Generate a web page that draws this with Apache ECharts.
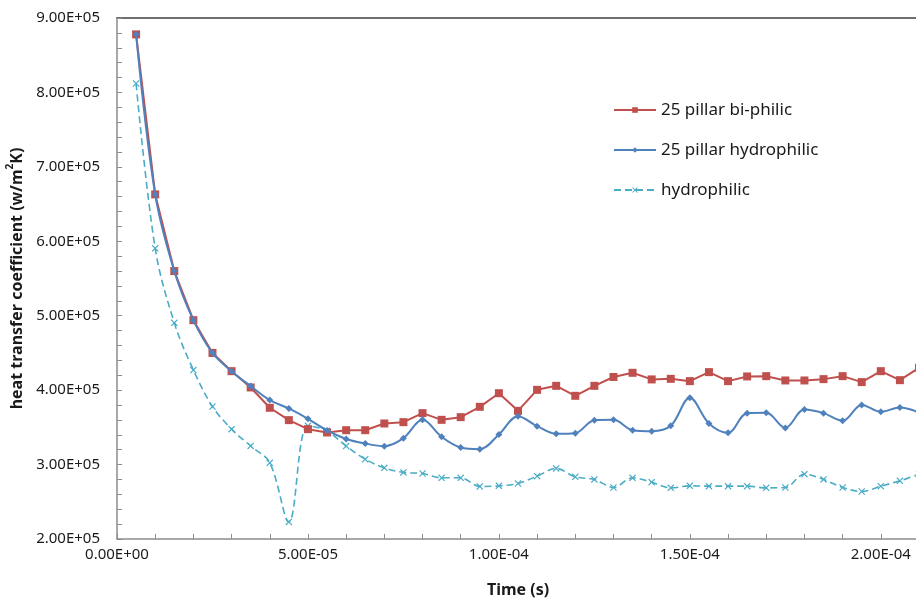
<!DOCTYPE html>
<html>
<head>
<meta charset="utf-8">
<script src="https://cdn.jsdelivr.net/npm/echarts@6/dist/echarts.min.js"></script>
<style>
html,body{margin:0;padding:0;background:#fff;}
#chart{width:916px;height:603px;}
</style>
</head>
<body>
<div id="chart"></div>
<script>
// Time (s)
const times = [
  5e-6, 1e-5, 1.5e-5, 2e-5, 2.5e-5, 3e-5, 3.5e-5, 4e-5, 4.5e-5, 5e-5,
  5.5e-5, 6e-5, 6.5e-5, 7e-5, 7.5e-5, 8e-5, 8.5e-5, 9e-5, 9.5e-5, 1e-4,
  1.05e-4, 1.1e-4, 1.15e-4, 1.2e-4, 1.25e-4, 1.3e-4, 1.35e-4, 1.4e-4, 1.45e-4, 1.5e-4,
  1.55e-4, 1.6e-4, 1.65e-4, 1.7e-4, 1.75e-4, 1.8e-4, 1.85e-4, 1.9e-4, 1.95e-4, 2e-4,
  2.05e-4, 2.1e-4
];
// 25 pillar bi-philic
const biPhilic = [
  878000, 663000, 560000, 494000, 450000, 425500, 403600, 376300, 359700, 347600,
  343100, 346200, 346200, 355200, 357000, 369100, 360100, 363700, 377600, 395900,
  372200, 400400, 405800, 392400, 405800, 417700, 423300, 414400, 415200, 412100,
  424200, 412100, 418400, 418800, 413000, 413000, 414800, 418800, 410800, 425500,
  413400, 430000
];
// 25 pillar hydrophilic
const pillarHydro = [
  878000, 663000, 560000, 494000, 450000, 425500, 405400, 386600, 375400, 361400,
  345800, 334400, 328300, 324700, 335500, 360100, 337300, 322900, 320700, 340400,
  365000, 351600, 341300, 342200, 359700, 360200, 346200, 344900, 352000, 389700,
  355200, 342600, 369100, 369500, 349300, 374000, 369100, 358800, 380200, 370900,
  376700, 370000
];
// hydrophilic
const hydro = [
  812000, 590500, 490500, 427000, 378000, 347600, 325000, 302400, 223000, 352000,
  345300, 324800, 307300, 295600, 289400, 288000, 282200, 282200, 270600, 271400,
  274600, 284400, 294800, 283500, 280000, 269200, 282200, 276300, 268700, 271400,
  271000, 271000, 271000, 268700, 269200, 287100, 280000, 269200, 263800, 271000,
  278100, 287000
];
const seriesNames = ['25 pillar bi-philic', '25 pillar hydrophilic', 'hydrophilic'];
const xLabelValues = [0, 5e-5, 1e-4, 1.5e-4, 2e-4];
const xTickValues = [0,1e-5,2e-5,3e-5,4e-5,5e-5,6e-5,7e-5,8e-5,9e-5,1e-4,1.1e-4,1.2e-4,1.3e-4,1.4e-4,1.5e-4,1.6e-4,1.7e-4,1.8e-4,1.9e-4,2e-4,2.1e-4];
const yLabelValues = [200000,300000,400000,500000,600000,700000,800000,900000];
const yTickValues = [];
for (let v = 200000; v <= 900000; v += 20000) yTickValues.push(v);

function sci(v) {
  const s = Number(v).toExponential(2);
  const parts = s.split('e');
  const e = parseInt(parts[1], 10);
  const sign = e < 0 ? '-' : '+';
  const d = Math.abs(e);
  return parts[0] + 'E' + sign + (d < 10 ? '0' + d : '' + d);
}
function pairs(ys) { return times.map((t, i) => [t, ys[i]]); }

const FONT = 'Noto Sans';
const xMark = 'path://M0,1.2L1.2,0L5,3.8L8.8,0L10,1.2L6.2,5L10,8.8L8.8,10L5,6.2L1.2,10L0,8.8L3.8,5Z';

const chart = echarts.init(document.getElementById('chart'), null, {renderer: 'canvas'});
chart.setOption({
  animation: false,
  backgroundColor: '#ffffff',
  textStyle: {fontFamily: FONT},
  grid: {left: 117, top: 18, right: -3, bottom: 64, containLabel: false, outerBoundsMode: 'none'},
  legend: {
    orient: 'vertical',
    left: 613,
    top: 101,
    padding: 0,
    itemWidth: 42,
    itemHeight: 7,
    itemGap: 22,
    textStyle: {fontFamily: FONT, fontSize: 17, lineHeight: 18, color: '#1a1a1a'},
    data: seriesNames
  },
  xAxis: [{
    type: 'value',
    min: 0, max: 2.1e-4, interval: 5e-5,
    name: 'Time (s)',
    nameLocation: 'middle',
    nameGap: 43,
    nameTextStyle: {fontFamily: FONT, fontSize: 16, fontWeight: 'bold', color: '#1a1a1a'},
    axisLine: {show: true, lineStyle: {color: '#8c8c8c', width: 1.5}},
    axisTick: {show: true, inside: true, length: 5, customValues: xTickValues, lineStyle: {color: '#8c8c8c', width: 1}},
    axisLabel: {show: true, customValues: xLabelValues, formatter: sci, fontFamily: FONT, fontSize: 15, color: '#1a1a1a', margin: 8},
    splitLine: {show: false}
  }, {
    type: 'value',
    position: 'top',
    min: 0, max: 2.1e-4,
    axisLine: {show: true, onZero: false, lineStyle: {color: '#404040', width: 1.5}},
    axisTick: {show: false},
    axisLabel: {show: false},
    splitLine: {show: false}
  }],
  yAxis: {
    type: 'value',
    min: 200000, max: 900000, interval: 100000,
    name: '{a|heat transfer coefficient (w/m}{s|2}{a|K)}',
    nameLocation: 'middle',
    nameRotate: 90,
    nameGap: 92,
    nameTextStyle: {
      fontFamily: FONT, fontSize: 16, fontWeight: 'bold', color: '#1a1a1a',
      rich: {
        a: {fontFamily: FONT, fontSize: 16, fontWeight: 'bold', color: '#1a1a1a', lineHeight: 20, verticalAlign: 'bottom'},
        s: {fontFamily: FONT, fontSize: 10, fontWeight: 'bold', color: '#1a1a1a', lineHeight: 20, verticalAlign: 'top', padding: [0,0,6,0]}
      }
    },
    axisLine: {show: true, lineStyle: {color: '#8c8c8c', width: 1.5}},
    axisTick: {show: true, inside: true, length: 5, customValues: yTickValues, lineStyle: {color: '#8c8c8c', width: 1}},
    axisLabel: {show: true, customValues: yLabelValues, formatter: sci, fontFamily: FONT, fontSize: 15, color: '#1a1a1a', margin: 17},
    splitLine: {show: false}
  },
  series: [{
    name: seriesNames[0],
    type: 'line',
    data: pairs(biPhilic),
    smooth: false,
    symbol: 'rect',
    symbolSize: 8,
    itemStyle: {color: '#C0504D'},
    lineStyle: {color: '#C0504D', width: 2},
    z: 3
  }, {
    name: seriesNames[1],
    type: 'line',
    data: pairs(pillarHydro),
    smooth: 0.35,
    symbol: 'diamond',
    symbolSize: 7,
    itemStyle: {color: '#4F81BD'},
    lineStyle: {color: '#4F81BD', width: 2},
    z: 4
  }, {
    name: seriesNames[2],
    type: 'line',
    data: pairs(hydro),
    smooth: 0.35,
    symbol: xMark,
    symbolSize: 7,
    itemStyle: {color: '#4BACC6'},
    lineStyle: {color: '#4BACC6', width: 1.6, type: [7, 4]},
    z: 2
  }]
});
</script>
</body>
</html>
